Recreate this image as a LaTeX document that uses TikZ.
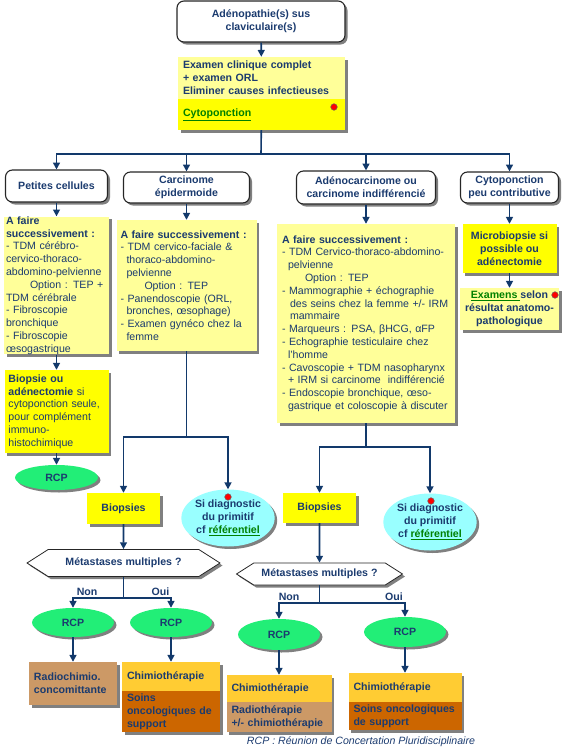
\documentclass[tikz,border=0pt]{standalone}
\usepackage{fontspec}
\setmainfont{Liberation Sans}
\usetikzlibrary{arrows.meta}
\usetikzlibrary{shapes.geometric,shapes.symbols}
\usetikzlibrary{shadows}
\tikzset{>={Triangle[width=2.4mm,length=2.4mm]}}

\definecolor{navy}{HTML}{1B3B6F}
\definecolor{lineblue}{HTML}{12396B}
\definecolor{paleyellow}{HTML}{FFFF99}
\definecolor{brightyellow}{HTML}{FFFF00}
\definecolor{rcpgreen}{HTML}{22EE77}
\definecolor{diagcyan}{HTML}{99FFFF}
\definecolor{chimioorange}{HTML}{FFCC33}
\definecolor{soinsorange}{HTML}{CC6600}
\definecolor{radiotan}{HTML}{CC9966}
\definecolor{linkgreen}{HTML}{008000}

\newcommand{\txtsize}{\fontsize{10.6}{12.8}\selectfont}
\newcommand{\lien}[1]{\textcolor{linkgreen}{\underline{#1}}}

\tikzset{
  base/.style={font=\txtsize\bfseries, text=navy, inner sep=2pt,
    drop shadow={shadow xshift=2.5pt, shadow yshift=-2.5pt, fill=black!50, opacity=1}},
  titlebox/.style={base, draw=black!85, line width=1.1pt, fill=white,
    rounded corners=7pt, align=center},
  notebox/.style={base, font=\txtsize, fill=paleyellow, align=left, inner xsep=4pt},
  hotbox/.style={base, fill=brightyellow},
  rcp/.style={base, ellipse, fill=rcpgreen, inner sep=0pt},
  diag/.style={base, ellipse, fill=diagcyan, inner sep=0pt, align=center},
  question/.style={base, shape=signal, signal to=west and east, signal pointer angle=65,
    draw=black!85, line width=0.8pt, fill=white},
  treatbox/.style={base, align=left, inner xsep=5pt},
  lab/.style={font=\txtsize\bfseries, text=navy, anchor=south, inner sep=2pt},
  line/.style={draw=lineblue, line width=1.6pt},
  link/.style={line, ->},
}

\begin{document}
\begin{tikzpicture}[x=1pt, y=-1pt]
  \useasboundingbox (0,0) rectangle (562,750);

  % top of the tree
  \node[titlebox, minimum width=168pt, minimum height=41pt] (top) at (261,21.5)
    {Adénopathie(s) sus\\claviculaire(s)};
  \node[notebox, font=\txtsize\bfseries, minimum width=167pt, minimum height=42pt,
    text width=157pt, inner xsep=5pt] (exam) at (261.5,78)
    {Examen clinique complet\\+ examen ORL\\Eliminer causes infectieuses};
  \node[hotbox, align=left, minimum width=167pt, minimum height=31pt,
    text width=157pt, inner xsep=5pt] (cyto) at (261.5,114.5) {\lien{Cytoponction}};
  \filldraw[fill=red, draw=black!60, line width=0.5pt] (334,107) circle (3.3pt);
  \coordinate (split) at (261,154);

  % the four kinds
  \node[titlebox, minimum width=102pt, minimum height=32pt] (petites) at (56.5,186)
    {Petites cellules};
  \node[titlebox, minimum width=126pt, minimum height=31pt] (carcinome) at (186.5,187.5)
    {Carcinome\\épidermoide};
  \node[titlebox, minimum width=139pt, minimum height=33pt] (adeno) at (366,187.5)
    {Adénocarcinome ou\\carcinome indifférencié};
  \node[titlebox, minimum width=98pt, minimum height=31pt] (cytopeu) at (509.5,187.5)
    {Cytoponction\\peu contributive};

  % petites cellules
  \node[notebox, inner xsep=2pt, minimum width=105pt, minimum height=137pt, text width=101pt,
    inner ysep=0pt] (pcnote) at (56.5,285.5)
    {\textbf{A faire}\\
     \textbf{successivement :}\\
     - TDM cérébro-\\
     cervico-thoraco-\\
     abdomino-pelvienne\\
     \hspace*{24pt}Option : TEP +\\
     TDM cérébrale\\
     - Fibroscopie\\
     bronchique\\
     - Fibroscopie\\
     œsogastrique};
  \node[notebox, fill=brightyellow, minimum width=104pt, minimum height=83pt, text width=96pt]
    (biopsie) at (56.5,411.5)
    {\textbf{Biopsie ou}\\
     \textbf{adénectomie} si\\
     cytoponction seule,\\
     pour complément\\
     immuno-\\
     histochimique};
  \node[rcp, minimum width=83pt, minimum height=25pt] (rcp1) at (56.5,477.5) {RCP};

  % carcinome epidermoide
  \node[notebox, minimum width=140pt, minimum height=131pt, text width=132pt]
    (epnote) at (186.5,285.5)
    {\textbf{A faire successivement :}\\
     - TDM cervico-faciale \&\\
     \hspace*{6pt}thoraco-abdomino-\\
     \hspace*{6pt}pelvienne\\
     \hspace*{24pt}Option : TEP\\
     - Panendoscopie (ORL,\\
     \hspace*{6pt}bronches, œsophage)\\
     - Examen gynéco chez la\\
     \hspace*{6pt}femme};
  \coordinate (split2) at (186.5,437);
  \node[hotbox, minimum width=73pt, minimum height=31pt] (biopL) at (123.5,508.5) {Biopsies};
  \node[diag, minimum width=93pt, minimum height=57pt] (diagL) at (228,518)
    {Si diagnostic\\du primitif\\cf \lien{référentiel}};
  \filldraw[fill=red, draw=black!60, line width=0.5pt] (228,497) circle (3.3pt);
  \node[question, minimum width=193pt, minimum height=27pt] (hexL) at (123.5,563)
    {Métastases multiples ?};
  \coordinate (split3) at (123.5,598);
  \node[rcp, minimum width=82pt, minimum height=29pt] (rcpL1) at (73,622.5) {RCP};
  \node[rcp, minimum width=82pt, minimum height=29pt] (rcpL2) at (171,622.5) {RCP};
  \node[treatbox, fill=radiotan, minimum width=88pt, minimum height=43pt, text width=78pt]
    (radioch) at (73,683.5) {Radiochimio.\\concomittante};
  \node[treatbox, fill=chimioorange, minimum width=98pt, minimum height=29pt, text width=88pt]
    (chimioL) at (171,676.5) {Chimiothérapie};
  \node[treatbox, fill=soinsorange, minimum width=98pt, minimum height=41pt, text width=88pt,
    inner ysep=0pt] (soinsL) at (171,711.5) {Soins\\oncologiques de\\support};

  % adenocarcinome
  \node[notebox, inner xsep=5pt, minimum width=178pt, minimum height=199pt, text width=168pt]
    (adnote) at (366,323.5)
    {\textbf{A faire successivement :}\\
     - TDM Cervico-thoraco-abdomino-\\
     \hspace*{6pt}pelvienne\\
     \hspace*{23pt}Option : TEP\\
     - Mammographie + échographie\\
     \hspace*{8pt}des seins chez la femme +/- IRM\\
     \hspace*{8pt}mammaire\\
     - Marqueurs : PSA, βHCG, αFP\\
     - Echographie testiculaire chez\\
     \hspace*{6pt}l'homme\\
     - Cavoscopie + TDM nasopharynx\\
     \hspace*{6pt}+ IRM si carcinome\ \ indifférencié\\
     - Endoscopie bronchique, œso-\\
     \hspace*{6pt}gastrique et coloscopie à discuter};
  \coordinate (split5) at (366,447);
  \node[hotbox, minimum width=73pt, minimum height=30pt] (biopR) at (319.5,508) {Biopsies};
  \node[diag, minimum width=92pt, minimum height=57pt] (diagR) at (430,522)
    {Si diagnostic\\du primitif\\cf \lien{référentiel}};
  \filldraw[fill=red, draw=black!60, line width=0.5pt] (431,501) circle (3.3pt);
  \node[question, minimum width=166pt, minimum height=22pt] (hexR) at (319.5,574)
    {Métastases multiples ?};
  \coordinate (split4) at (319.5,603);
  \node[rcp, minimum width=82pt, minimum height=31pt] (rcpR1) at (279,634.5) {RCP};
  \node[rcp, minimum width=82pt, minimum height=30pt] (rcpR2) at (405,632) {RCP};
  \node[treatbox, fill=chimioorange, minimum width=105pt, minimum height=27pt, text width=95pt]
    (chimioR1) at (279,688.5) {Chimiothérapie};
  \node[treatbox, fill=radiotan, minimum width=105pt, minimum height=30pt, text width=95pt,
    inner ysep=0pt] (radioR) at (279,717) {Radiothérapie\\+/- chimiothérapie};
  \node[treatbox, fill=chimioorange, minimum width=113pt, minimum height=29pt, text width=103pt]
    (chimioR2) at (405,687.5) {Chimiothérapie};
  \node[treatbox, fill=soinsorange, minimum width=113pt, minimum height=28pt, text width=103pt,
    inner ysep=0pt] (soinsR) at (405,716) {Soins oncologiques\\de support};

  % cytoponction peu contributive
  \node[hotbox, align=center, minimum width=94pt, minimum height=49pt] (microb) at (509.5,248.5)
    {Microbiopsie si\\possible ou\\adénectomie};
  \node[hotbox, fill=paleyellow, align=center, minimum width=99pt, minimum height=42pt]
    (examens) at (509.5,309)
    {\lien{Examens\ }selon\\résultat anatomo-\\pathologique};
  \filldraw[fill=red, draw=black!60, line width=0.5pt] (555,295) circle (3.3pt);

  \node[font=\txtsize\itshape, text=navy] (legend) at (361,742)
    {RCP : Réunion de Concertation Pluridisciplinaire};

  % connectors
  \draw[link] (top) -- (exam);
  \draw[line] (cyto) -- (split);
  \draw[link] (split) -| (petites);
  \draw[link] (split) -| (carcinome);
  \draw[link] (split) -| (adeno);
  \draw[link] (split) -| (cytopeu);

  \draw[link] (petites) -- (pcnote);
  \draw[link] (pcnote) -- (biopsie);
  \draw[link] (biopsie) -- (rcp1);

  \draw[link] (carcinome) -- (epnote);
  \draw[line] (epnote) -- (split2);
  \draw[link] (split2) -| (biopL);
  \draw[link] (split2) -| (diagL);
  \draw[link] (biopL) -- (hexL);
  \draw[line] (hexL) -- (split3);
  \draw[link] (split3) -| node[lab, pos=.36] (nonL) {Non} (rcpL1);
  \draw[link] (split3) -| node[lab, pos=.39] (ouiL) {Oui} (rcpL2);
  \draw[link] (rcpL1) -- (radioch);
  \draw[link] (rcpL2) -- (chimioL);

  \draw[link] (adeno) -- (adnote);
  \draw[line] (adnote) -- (split5);
  \draw[link] (split5) -| (biopR);
  \draw[link] (split5) -| (diagR);
  \draw[link] (biopR) -- (hexR);
  \draw[line] (hexR) -- (split4);
  \draw[link] (split4) -| node[lab, pos=.375] (nonR) {Non} (rcpR1);
  \draw[link] (split4) -| node[lab, pos=.435] (ouiR) {Oui} (rcpR2);
  \draw[link] (rcpR1) -- (chimioR1);
  \draw[link] (rcpR2) -- (chimioR2);

  \draw[link] (cytopeu) -- (microb);
  \draw[link] (microb) -- (examens);

\end{tikzpicture}
\end{document}
